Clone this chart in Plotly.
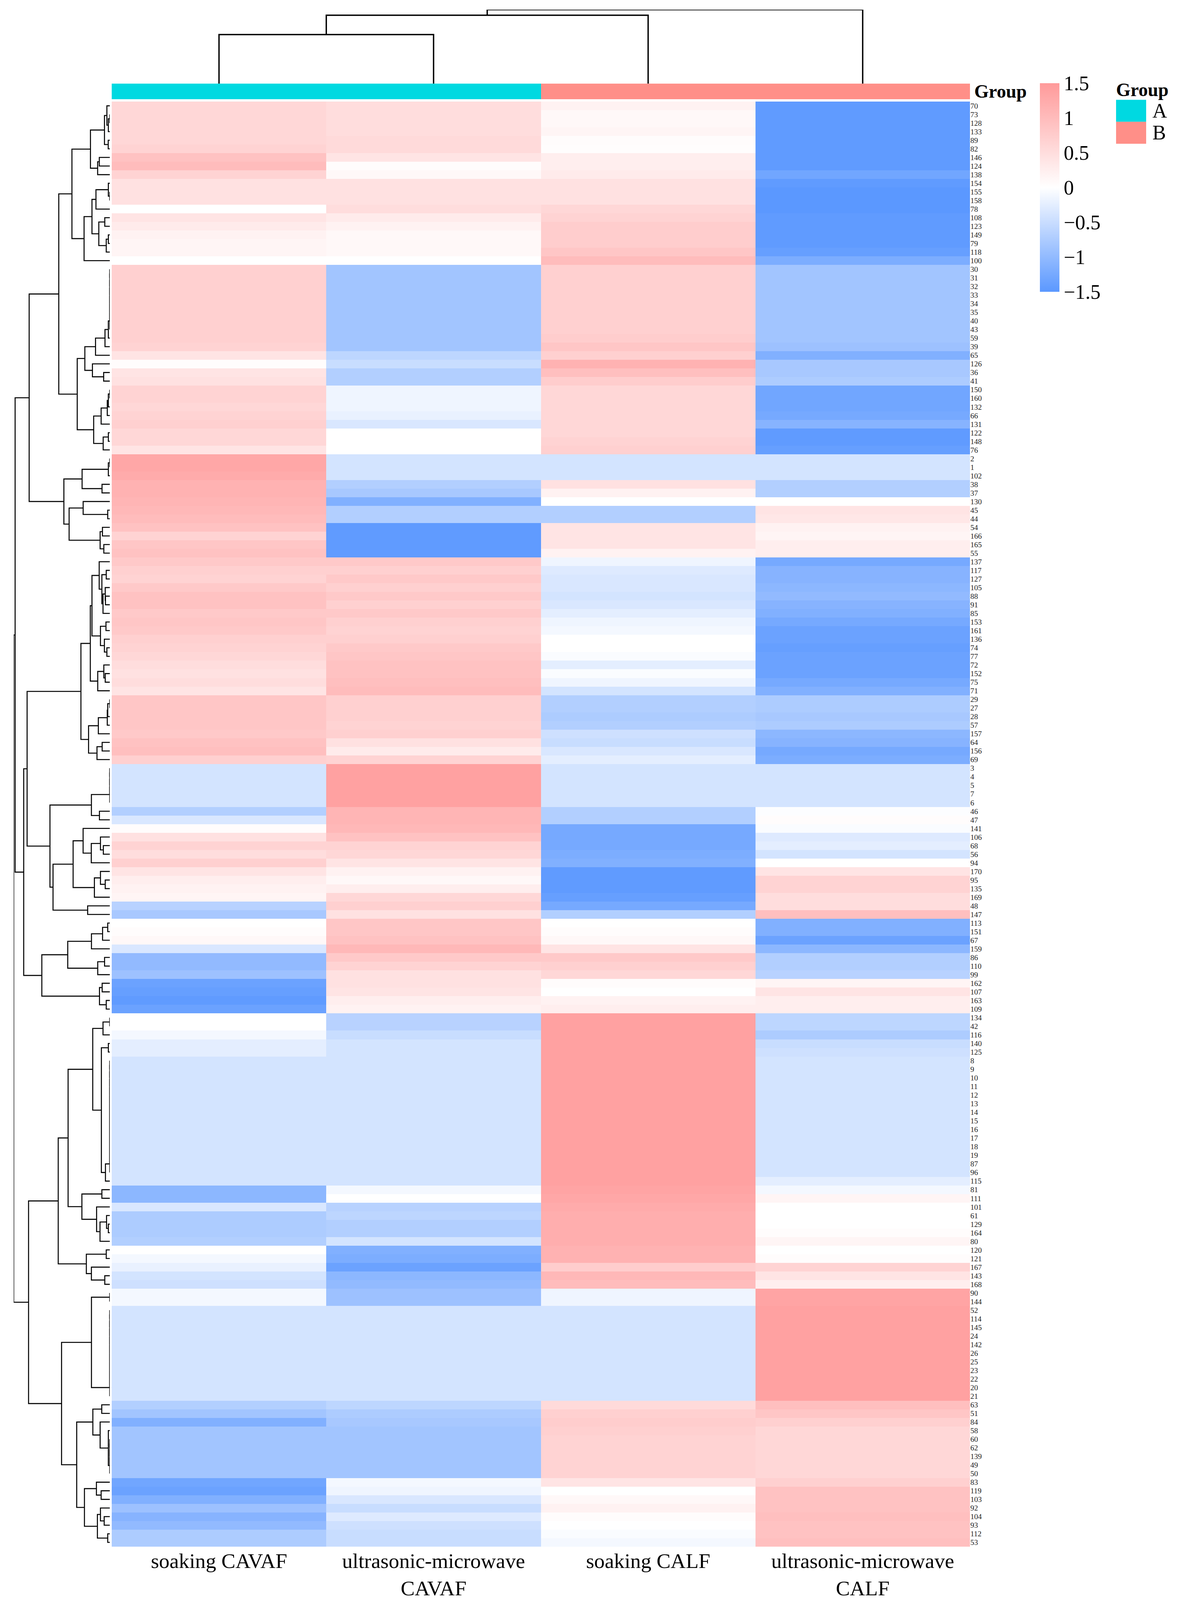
import numpy as np
import plotly.graph_objects as go

W, H = 3036, 5450

row_labels = [70, 73, 128, 133, 89, 82, 146, 124, 138, 154, 155, 158, 78, 108, 123, 149, 79, 118, 100,
              30, 31, 32, 33, 34, 35, 40, 43, 59, 39, 65, 126, 36, 41,
              150, 160, 132, 66, 131, 122, 148, 76,
              2, 1, 102, 38, 37, 130, 45, 44, 54, 166, 165, 55,
              137, 117, 127, 105, 88, 91, 85, 153, 161, 136, 74, 77, 72, 152, 75, 71,
              29, 27, 28, 57, 157, 64, 156, 69,
              3, 4, 5, 7, 6,
              46, 47, 141, 106, 68, 56, 94,
              170, 95, 135, 169, 48, 147,
              113, 151, 67, 159, 86, 110, 99,
              162, 107, 163, 109,
              134, 42, 116, 140, 125,
              8, 9, 10, 11, 12, 13, 14, 15, 16, 17, 18, 19, 87, 96, 115,
              81, 111, 101,
              61, 129, 164, 80,
              120, 121, 167, 143, 168,
              90, 144,
              52, 114, 145, 24, 142, 26, 25, 23, 22, 20, 21,
              63, 51, 84, 58, 60, 62, 139, 49, 50,
              83, 119, 103, 92, 104, 93, 112, 53]

soaking_CAVAF = [0.6, 0.6, 0.6, 0.6, 0.6, 0.65, 0.9, 1.0, 0.65, 0.45, 0.45, 0.45, 0.0, 0.4, 0.3, 0.2, 0.15, 0.15, 0.0,
                 0.7, 0.7, 0.7, 0.7, 0.7, 0.7, 0.7, 0.7, 0.7, 0.65, 0.4, 0.05, 0.4, 0.45,
                 0.65, 0.65, 0.6, 0.65, 0.7, 0.6, 0.6, 0.4,
                 1.3, 1.3, 1.25, 1.15, 1.15, 1.1, 1.05, 1.0, 0.9, 0.65, 0.85, 0.9,
                 0.8, 0.7, 0.65, 0.8, 0.9, 0.9, 0.8, 0.85, 0.8, 0.7, 0.65, 0.6, 0.5, 0.45, 0.5, 0.4,
                 0.85, 0.85, 0.85, 0.85, 0.8, 0.9, 0.95, 0.7,
                 -0.4, -0.4, -0.4, -0.4, -0.4,
                 -0.7, -0.35, 0.05, 0.45, 0.65, 0.5, 0.7,
                 0.4, 0.25, 0.2, 0.15, -0.65, -0.8,
                 0.0, 0.05, 0.1, -0.35, -1.0, -1.0, -0.9,
                 -1.35, -1.4, -1.45, -1.35,
                 0.0, 0.0, -0.1, -0.25, -0.25,
                 -0.4, -0.4, -0.4, -0.4, -0.4, -0.4, -0.4, -0.4, -0.4, -0.4, -0.4, -0.4, -0.4, -0.4, -0.4,
                 -1.05, -1.05, -0.35,
                 -0.75, -0.75, -0.75, -0.7,
                 0.0, -0.1, -0.2, -0.4, -0.45,
                 -0.1, -0.1,
                 -0.4, -0.4, -0.4, -0.4, -0.4, -0.4, -0.4, -0.4, -0.4, -0.4, -0.4,
                 -0.7, -0.85, -1.15, -0.85, -0.85, -0.85, -0.85, -0.85, -0.85,
                 -1.3, -1.35, -1.15, -0.9, -1.1, -1.0, -0.75, -0.75]

ultrasonic_CAVAF = [0.5, 0.5, 0.5, 0.5, 0.55, 0.55, 0.4, 0.05, 0.1, 0.45, 0.45, 0.45, 0.5, 0.3, 0.2, 0.1, 0.1, 0.1, 0.0,
                    -0.85, -0.85, -0.85, -0.85, -0.85, -0.85, -0.85, -0.85, -0.85, -0.85, -0.6, -0.5, -0.7, -0.7,
                    -0.15, -0.15, -0.15, -0.2, -0.35, 0.0, 0.0, 0.0,
                    -0.4, -0.4, -0.4, -0.7, -0.8, -1.15, -0.7, -0.7, -1.45, -1.45, -1.45, -1.45,
                    0.8, 0.7, 0.8, 0.7, 0.8, 0.7, 0.8, 0.7, 0.65, 0.7, 0.8, 0.85, 0.9, 0.9, 0.95, 1.0,
                    0.7, 0.7, 0.7, 0.65, 0.7, 0.45, 0.3, 0.65,
                    1.4, 1.4, 1.4, 1.4, 1.4,
                    1.1, 1.1, 1.05, 0.9, 0.65, 0.6, 0.4,
                    0.2, 0.1, 0.25, 0.6, 0.7, 0.45,
                    0.85, 0.85, 0.9, 1.05, 0.8, 0.65, 0.45,
                    0.45, 0.4, 0.25, 0.2,
                    -0.65, -0.65, -0.5, -0.4, -0.4,
                    -0.4, -0.4, -0.4, -0.4, -0.4, -0.4, -0.4, -0.4, -0.4, -0.4, -0.4, -0.4, -0.4, -0.4, -0.4,
                    -0.1, 0.0, -0.65,
                    -0.6, -0.7, -0.7, -0.4,
                    -1.15, -1.2, -1.35, -1.05, -1.0,
                    -0.9, -0.9,
                    -0.4, -0.4, -0.4, -0.4, -0.4, -0.4, -0.4, -0.4, -0.4, -0.4, -0.4,
                    -0.6, -0.75, -0.8, -0.85, -0.85, -0.85, -0.85, -0.85, -0.85,
                    -0.1, -0.15, -0.35, -0.5, -0.3, -0.45, -0.5, -0.5]

soaking_CALF = [0.2, 0.1, 0.1, 0.15, 0.05, 0.03, 0.25, 0.25, 0.3, 0.45, 0.45, 0.45, 0.6, 0.65, 0.75, 0.75, 0.75, 0.85, 1.0,
                0.7, 0.7, 0.7, 0.7, 0.7, 0.7, 0.7, 0.7, 0.75, 0.85, 0.7, 1.15, 0.95, 0.75,
                0.6, 0.6, 0.6, 0.6, 0.6, 0.6, 0.65, 0.7,
                -0.4, -0.4, -0.4, 0.45, 0.2, 0.0, -0.7, -0.7, 0.4, 0.4, 0.4, 0.2,
                -0.15, -0.3, -0.35, -0.35, -0.4, -0.35, -0.25, -0.15, -0.1, 0.0, 0.0, -0.05, -0.25, -0.05, -0.15, -0.4,
                -0.7, -0.7, -0.75, -0.7, -0.45, -0.5, -0.35, -0.25,
                -0.4, -0.4, -0.4, -0.4, -0.4,
                -0.7, -0.7, -1.25, -1.25, -1.25, -1.2, -1.15,
                -1.45, -1.45, -1.45, -1.4, -1.25, -0.7,
                0.0, 0.05, 0.1, 0.4, 0.8, 0.7, 0.6,
                0.05, 0.0, 0.2, 0.25,
                1.4, 1.4, 1.4, 1.4, 1.4,
                1.4, 1.4, 1.4, 1.4, 1.4, 1.4, 1.4, 1.4, 1.4, 1.4, 1.4, 1.4, 1.4, 1.4, 1.4,
                1.35, 1.3, 1.25,
                1.2, 1.2, 1.2, 1.2,
                1.15, 1.15, 0.75, 1.05, 1.0,
                -0.15, -0.15,
                -0.4, -0.4, -0.4, -0.4, -0.4, -0.4, -0.4, -0.4, -0.4, -0.4, -0.4,
                0.55, 0.7, 0.75, 0.7, 0.65, 0.65, 0.65, 0.65, 0.65,
                0.4, 0.0, 0.1, 0.2, 0.05, 0.0, -0.05, -0.1]

ultrasonic_CALF = [-1.45, -1.45, -1.45, -1.45, -1.45, -1.45, -1.45, -1.45, -1.3, -1.45, -1.5, -1.5, -1.5, -1.45, -1.45, -1.45, -1.45, -1.4, -1.2,
                   -0.85, -0.85, -0.85, -0.85, -0.85, -0.85, -0.85, -0.85, -0.85, -0.9, -1.15, -0.8, -0.8, -0.75,
                   -1.3, -1.3, -1.3, -1.25, -1.1, -1.45, -1.45, -1.4,
                   -0.4, -0.4, -0.4, -0.7, -0.7, 0.0, 0.4, 0.35, 0.2, 0.15, 0.25, 0.25,
                   -1.25, -1.1, -1.1, -1.05, -1.0, -1.1, -1.15, -1.25, -1.35, -1.35, -1.4, -1.35, -1.35, -1.35, -1.25, -1.15,
                   -0.75, -0.75, -0.8, -0.75, -1.05, -1.1, -1.25, -1.2,
                   -0.4, -0.4, -0.4, -0.4, -0.4,
                   -0.03, 0.05, -0.05, -0.3, -0.25, -0.4, 0.0,
                   0.4, 0.65, 0.65, 0.5, 0.5, 0.95,
                   -1.15, -1.15, -1.35, -1.05, -0.7, -0.7, -0.65,
                   0.15, 0.4, 0.25, 0.25,
                   -0.6, -0.6, -0.75, -0.5, -0.45,
                   -0.4, -0.4, -0.4, -0.4, -0.4, -0.4, -0.4, -0.4, -0.4, -0.4, -0.4, -0.4, -0.4, -0.4, -0.25,
                   -0.1, 0.15, 0.0,
                   0.0, 0.0, 0.05, 0.15,
                   0.0, 0.05, 0.65, 0.4, 0.25,
                   1.35, 1.35,
                   1.4, 1.4, 1.4, 1.4, 1.4, 1.4, 1.4, 1.4, 1.4, 1.4, 1.4,
                   0.95, 0.85, 0.7, 0.6, 0.6, 0.6, 0.6, 0.6, 0.6,
                   0.7, 0.9, 0.9, 0.9, 0.95, 0.9, 0.9, 0.95]

col_labels = ["soaking CAVAF", "ultrasonic-microwave<br>CAVAF", "soaking CALF", "ultrasonic-microwave<br>CALF"]
col_groups = ["A", "A", "B", "B"]
group_names = ["A", "B"]
group_colors = ["#00D9E1", "#FF8F88"]
# column tree: (left, right, height); nodes >= 4 are earlier merges
col_merges = [(0, 1, 0.663), (4, 2, 0.925), (5, 3, 1.0)]
color_ticks = [-1.5, -1, -0.5, 0, 0.5, 1, 1.5]

FONT = "Liberation Serif"
FS_ROW, FS_COL, FS_CB, FS_GRP, FS_LEG = 26, 62, 60, 55, 60

Z = np.array([soaking_CAVAF, ultrasonic_CAVAF, soaking_CALF, ultrasonic_CALF]).T
n = len(row_labels)


def fx(x):
    return x / W


def fy(y):
    return 1 - y / H


hm_x0, hm_x1 = 286, 2483
hm_y0, hm_y1 = 346, 5271
bar_y0, bar_y1 = 285, 338
cd_y0, cd_y1 = 33, 285
rd_x0, rd_x1 = 35, 281

# ---- row dendrogram: order-preserving complete-linkage clustering ----
D = np.sqrt(((Z[:, None, :] - Z[None, :, :]) ** 2).sum(-1))
clusters = [[i] for i in range(n)]
pos = [float(i) for i in range(n)]
hgt = [0.0] * n


def cdist(a, b):
    return float(D[np.ix_(a, b)].max())


gaps = [cdist(clusters[i], clusters[i + 1]) for i in range(n - 1)]
rx, ry = [], []
while len(clusters) > 1:
    k = int(np.argmin(gaps))
    h = max(gaps[k], hgt[k], hgt[k + 1])
    rx += [hgt[k], h, h, hgt[k + 1], None]
    ry += [pos[k], pos[k], pos[k + 1], pos[k + 1], None]
    clusters[k] = clusters[k] + clusters[k + 1]
    pos[k] = (pos[k] + pos[k + 1]) / 2
    hgt[k] = h
    del clusters[k + 1], pos[k + 1], hgt[k + 1], gaps[k]
    if k > 0:
        gaps[k - 1] = cdist(clusters[k - 1], clusters[k])
    if k < len(clusters) - 1:
        gaps[k] = cdist(clusters[k], clusters[k + 1])
root_h = hgt[0]

# ---- column dendrogram ----
node_pos = {i: float(i) for i in range(4)}
node_h = {i: 0.0 for i in range(4)}
cx, cy = [], []
for j, (a, b, h) in enumerate(col_merges):
    cx += [node_pos[a], node_pos[a], node_pos[b], node_pos[b], None]
    cy += [node_h[a], h, h, node_h[b], None]
    node_pos[4 + j] = (node_pos[a] + node_pos[b]) / 2
    node_h[4 + j] = h

colorscale = [[0.0, "#5B98FF"], [0.5, "#FFFFFF"], [1.0, "#FF9A9A"]]

fig = go.Figure()

fig.add_trace(go.Heatmap(
    z=Z, x=list(range(4)), y=list(range(n)),
    zmin=-1.5, zmax=1.5, colorscale=colorscale, xgap=0, ygap=0,
    colorbar=dict(
        x=fx(2662), xanchor="left", y=fy(283), yanchor="top",
        thickness=50, thicknessmode="pixels", len=711, lenmode="pixels",
        xpad=0, ypad=0, outlinewidth=0, ticks="",
        tickvals=color_ticks, tickfont=dict(family=FONT, size=FS_CB, color="black"),
    ),
    xaxis="x", yaxis="y",
))

grp_idx = [[group_names.index(g) for g in col_groups]]
fig.add_trace(go.Heatmap(
    z=grp_idx, x=list(range(4)), y=[0], zmin=0, zmax=1,
    colorscale=[[0, group_colors[0]], [0.5, group_colors[0]], [0.5, group_colors[1]], [1, group_colors[1]]],
    showscale=False, xaxis="x2", yaxis="y2",
))

fig.add_trace(go.Scatter(x=cx, y=cy, mode="lines", line=dict(color="black", width=3.5),
                         xaxis="x3", yaxis="y3", showlegend=False, hoverinfo="skip"))
fig.add_trace(go.Scatter(x=rx, y=ry, mode="lines", line=dict(color="black", width=2.6),
                         xaxis="x4", yaxis="y4", showlegend=False, hoverinfo="skip"))

hidden = dict(showgrid=False, zeroline=False, showticklabels=False, ticks="", showline=False)

fig.update_layout(
    width=W, height=H, margin=dict(l=0, r=0, t=0, b=0),
    paper_bgcolor="white", plot_bgcolor="white", showlegend=False,
    font=dict(family=FONT, color="black"),
    xaxis=dict(domain=[fx(hm_x0), fx(hm_x1)], range=[-0.5, 3.5], tickmode="array",
               tickvals=list(range(4)), ticktext=col_labels, tickangle=0, ticks="",
               tickfont=dict(family=FONT, size=FS_COL, color="black"),
               showgrid=False, zeroline=False, showline=False),
    yaxis=dict(domain=[fy(hm_y1), fy(hm_y0)], range=[n - 0.5, -0.5], side="right",
               tickmode="array", tickvals=list(range(n)), ticktext=[str(v) for v in row_labels],
               ticks="", tickfont=dict(family=FONT, size=FS_ROW, color="#222222"),
               showgrid=False, zeroline=False, showline=False, anchor="x"),
    xaxis2=dict(domain=[fx(hm_x0), fx(hm_x1)], range=[-0.5, 3.5], anchor="y2", **hidden),
    yaxis2=dict(domain=[fy(bar_y1), fy(bar_y0)], range=[-0.5, 0.5], anchor="x2", **hidden),
    xaxis3=dict(domain=[fx(hm_x0), fx(hm_x1)], range=[-0.5, 3.5], anchor="y3", **hidden),
    yaxis3=dict(domain=[fy(cd_y1), fy(cd_y0)], range=[0, 1.0], anchor="x3", **hidden),
    xaxis4=dict(domain=[fx(rd_x0), fx(rd_x1)], range=[root_h, 0], anchor="y4", **hidden),
    yaxis4=dict(domain=[fy(hm_y1), fy(hm_y0)], range=[n - 0.5, -0.5], anchor="x4", **hidden),
)

# annotation 0: label of the group bar; 1: legend title; 2,3: legend entries
fig.add_annotation(x=fx(2492), y=fy(311), xref="paper", yref="paper", xanchor="left", yanchor="middle",
                   text="<b>Group</b>", showarrow=False, font=dict(family=FONT, size=FS_GRP, color="black"))
fig.add_annotation(x=fx(2855), y=fy(306), xref="paper", yref="paper", xanchor="left", yanchor="middle",
                   text="<b>Group</b>", showarrow=False, font=dict(family=FONT, size=FS_GRP, color="black"))
box_top = 340
box_h = 75
for i, (g, c) in enumerate(zip(group_names, group_colors)):
    y0 = box_top + i * box_h
    fig.add_shape(type="rect", xref="paper", yref="paper", x0=fx(2857), x1=fx(2934),
                  y0=fy(y0 + box_h), y1=fy(y0), fillcolor=c, line=dict(width=0))
    fig.add_annotation(x=fx(2948), y=fy(y0 + box_h / 2), xref="paper", yref="paper",
                       xanchor="left", yanchor="middle", text=g, showarrow=False,
                       font=dict(family=FONT, size=FS_LEG, color="black"))

# fit the figure to the real browser viewport (the window may be shorter than 5450 px)
post = (
    "var gd=document.getElementById('{plot_id}');"
    "document.body.style.margin='0';"
    "document.documentElement.style.overflow='hidden';"
    "var vw=window.innerWidth, vh=window.innerHeight;"
    "var k=vh/" + str(H) + ", kx=vw/" + str(W) + ";"
    "var kr=Math.min(k,kx), t=Math.sqrt(kr);"
    "gd.style.width=vw+'px'; gd.style.height=vh+'px';"
    "Plotly.update(gd,"
    "{'colorbar.len':711*k,'colorbar.thickness':50*kx,'colorbar.tickfont.size':" + str(FS_CB) + "*t},"
    "{'width':vw,'height':vh,"
    "'xaxis.tickfont.size':" + str(FS_COL) + "*t,"
    "'yaxis.tickfont.size':" + str(FS_ROW) + "*kr,"
    "'annotations[0].font.size':" + str(FS_GRP) + "*t,"
    "'annotations[1].font.size':" + str(FS_GRP) + "*t,"
    "'annotations[2].font.size':" + str(FS_LEG) + "*t,"
    "'annotations[3].font.size':" + str(FS_LEG) + "*t},[0]);"
)

fig.write_html("out.html", post_script=post, config={"displayModeBar": False})
